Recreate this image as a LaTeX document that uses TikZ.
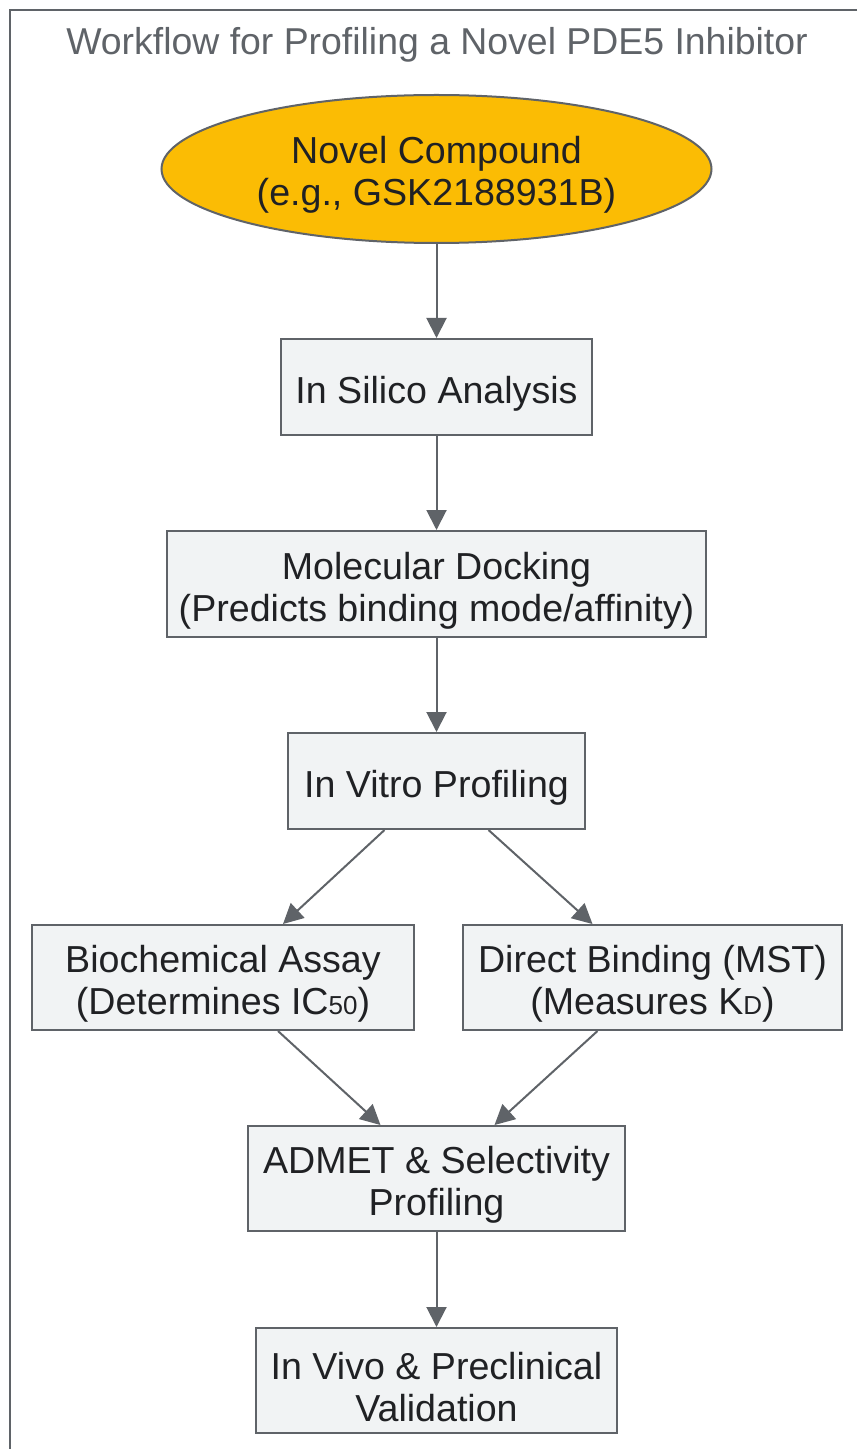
\documentclass[tikz,border=0pt]{standalone}
\usepackage{fontspec}
\setmainfont{Liberation Sans}
\usepackage{xcolor}
\definecolor{wfgray}{RGB}{95,99,104}
\definecolor{wffill}{RGB}{241,243,244}
\definecolor{wftext}{RGB}{32,33,36}
\definecolor{wfyellow}{RGB}{251,188,4}
\usepackage{tikz}
\usetikzlibrary{arrows.meta, shapes.geometric}

\tikzset{
  stepbox/.style={draw=wfgray, fill=wffill, line width=1pt, text=wftext,
    align=center, inner sep=0pt, font=\fontsize{18.8}{21}\selectfont},
  flow/.style={draw=wfgray, line width=1pt,
    -{Triangle[length=10pt, width=10pt, fill=wfgray]}},
}
\newcommand{\smallsub}[1]{{\fontsize{13}{13}\selectfont #1}}
\newcommand{\toppad}[1]{\rule{0pt}{#1}}

\begin{document}
\begin{tikzpicture}[x=0.5pt, y=-0.5pt]
  \useasboundingbox (0,0) rectangle (857,1449);

  % outer frame and title
  \draw[wfgray, line width=1pt] (857,10) -- (10,10) -- (10,1449);
  \node[font=\fontsize{18.7}{21}\selectfont, text=wfgray, anchor=base] (title) at (437,55)
       {Workflow for Profiling a Novel PDE5 Inhibitor};

  % compound
  \node[stepbox, ellipse, fill=wfyellow, minimum width=275pt, minimum height=74pt] (compound) at (436.5,169)
       {\toppad{19pt}Novel Compound\\(e.g., GSK2188931B)};

  % steps
  \node[stepbox, minimum width=155.5pt, minimum height=48pt] (silico) at (436.5,387)
       {\toppad{20pt}In Silico Analysis};
  \node[stepbox, minimum width=269.5pt, minimum height=53pt] (docking) at (436.5,584)
       {\toppad{20pt}Molecular Docking\\(Predicts binding mode/affinity)};
  \node[stepbox, minimum width=148.5pt, minimum height=48pt] (vitro) at (436.5,781)
       {\toppad{20pt}In Vitro Profiling};
  \node[stepbox, minimum width=191pt, minimum height=52.5pt] (biochem) at (223,977.5)
       {\toppad{20pt}Biochemical Assay\\(Determines IC\smallsub{50})};
  \node[stepbox, minimum width=189.5pt, minimum height=52.5pt] (binding) at (652.5,977.5)
       {\toppad{20pt}Direct Binding (MST)\\(Measures K\smallsub{D})};
  \node[stepbox, minimum width=188.5pt, minimum height=52.5pt] (admet) at (436.5,1178.5)
       {\toppad{20pt}ADMET \& Selectivity\\Profiling};
  \node[stepbox, minimum width=180.5pt, minimum height=52.5pt] (vivo) at (436.5,1380.5)
       {\toppad{20pt}In Vivo \& Preclinical\\Validation};

  % connectors
  \draw[flow] (compound) -- (silico);
  \draw[flow] (silico) -- (docking);
  \draw[flow] (docking) -- (vitro);
  \draw[flow] ([xshift=-26pt]vitro.south) -- ([xshift=30pt]biochem.north);
  \draw[flow] ([xshift=26pt]vitro.south) -- ([xshift=-30pt]binding.north);
  \draw[flow] ([xshift=27.5pt]biochem.south) -- ([xshift=-28pt]admet.north);
  \draw[flow] ([xshift=-27.5pt]binding.south) -- ([xshift=29pt]admet.north);
  \draw[flow] (admet) -- (vivo);
\end{tikzpicture}
\end{document}
